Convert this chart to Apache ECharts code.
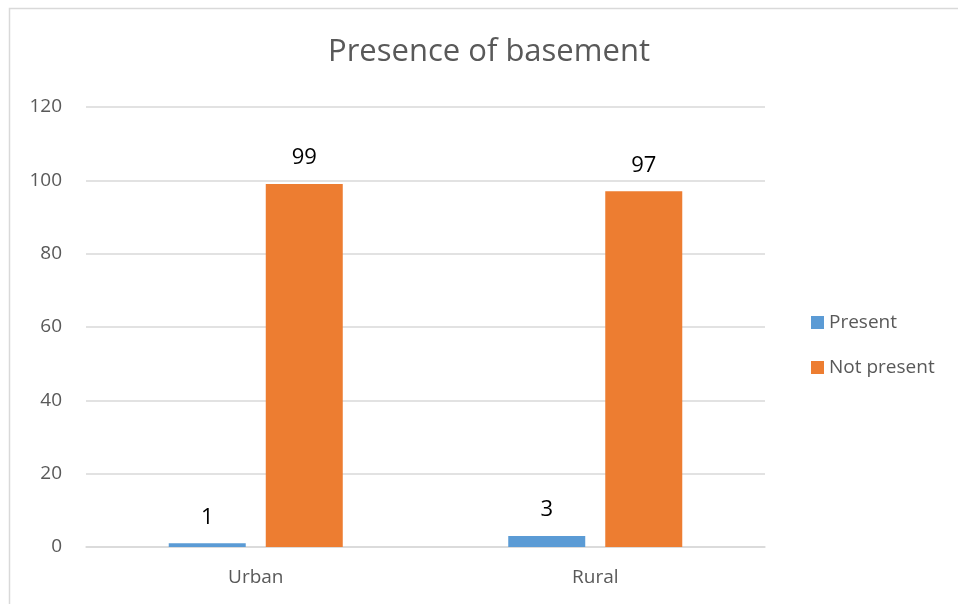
<!DOCTYPE html>
<html>
<head>
<meta charset="utf-8">
<script src="https://cdn.jsdelivr.net/npm/echarts@6/dist/echarts.min.js"></script>
<style>
  html, body { margin: 0; padding: 0; background: #fff; }
  #chart { width: 958px; height: 604px; }
</style>
</head>
<body>
<div id="chart"></div>
<script>
var myChart = echarts.init(document.getElementById('chart'));

// data
var categories = ['Urban', 'Rural'];
var presentData = [1, 3];
var notPresentData = [99, 97];
var legendNames = ['Present', 'Not present'];

var textGrey = '#595959';
var fontName = '"Open Sans", "Liberation Sans", sans-serif';

var option = {
    backgroundColor: '#fff',
    animation: false,
    graphic: [{
        type: 'rect',
        shape: { x: 9.5, y: 8.5, width: 1200, height: 1200 },
        style: { fill: 'none', stroke: '#d9d9d9', lineWidth: 1.5 },
        silent: true
    }],
    title: {
        text: 'Presence of basement',
        left: 484,
        textAlign: 'center',
        top: 32,
        textStyle: {
            color: textGrey,
            fontSize: 31,
            fontWeight: 'normal',
            fontFamily: fontName
        }
    },
    legend: {
        orient: 'vertical',
        left: 806,
        top: 308,
        itemWidth: 13,
        itemHeight: 13,
        itemGap: 26,
        icon: 'rect',
        textStyle: {
            color: textGrey,
            fontSize: 19,
            fontFamily: fontName
        },
        data: legendNames
    },
    grid: {
        left: 86,
        right: 193,
        top: 107,
        bottom: 57
    },
    xAxis: {
        type: 'category',
        data: categories,
        axisLine: { show: true, lineStyle: { color: '#d9d9d9', width: 1.5 } },
        axisTick: { show: false },
        axisLabel: {
            color: textGrey,
            fontSize: 19,
            fontFamily: fontName,
            margin: 21
        }
    },
    yAxis: {
        type: 'value',
        min: 0,
        max: 120,
        interval: 20,
        axisLine: { show: false },
        axisTick: { show: false },
        axisLabel: {
            color: textGrey,
            fontSize: 19,
            fontFamily: fontName,
            margin: 24
        },
        splitLine: { lineStyle: { color: '#d9d9d9', width: 1.5 } }
    },
    series: [{
        name: legendNames[0],
        type: 'bar',
        barWidth: 77,
        barGap: '26%',
        itemStyle: { color: '#5b9bd5' },
        label: {
            show: true,
            position: 'top',
            distance: 15,
            color: '#000',
            fontSize: 22,
            fontFamily: fontName
        },
        data: presentData
    }, {
        name: legendNames[1],
        type: 'bar',
        barWidth: 77,
        itemStyle: { color: '#ed7d31' },
        label: {
            show: true,
            position: 'top',
            distance: 15,
            color: '#000',
            fontSize: 22,
            fontFamily: fontName
        },
        data: notPresentData
    }]
};

myChart.setOption(option);
</script>
</body>
</html>
